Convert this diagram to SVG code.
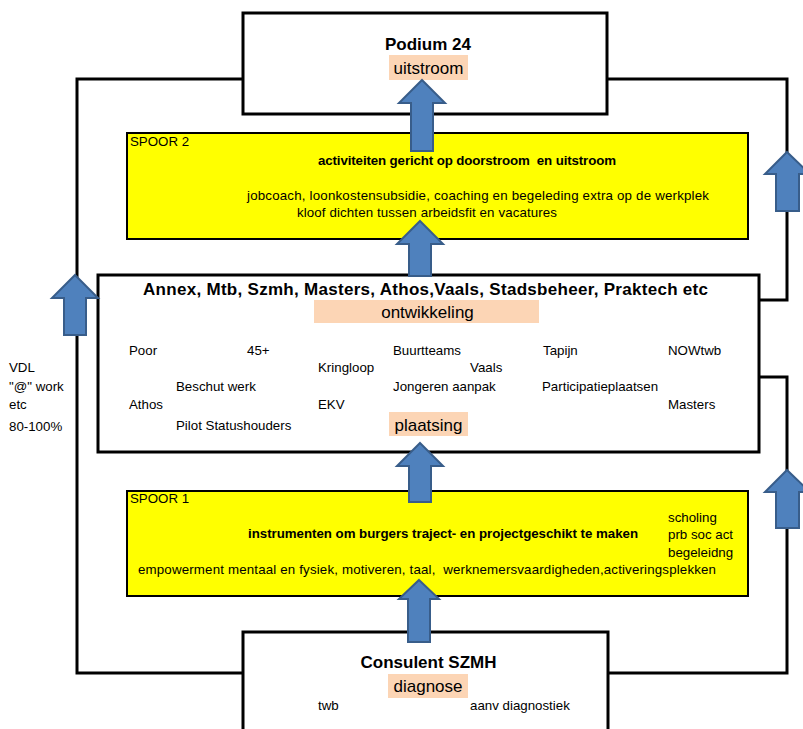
<svg xmlns="http://www.w3.org/2000/svg" width="803" height="729" viewBox="0 0 803 729">
<style>
.box{fill:#ffffff;stroke:#000000;stroke-width:3}
.spoor{fill:#ffff00;stroke:#000000;stroke-width:2}
.hl{fill:#fcd5b5;stroke:none}
.conn{fill:none;stroke:#000000;stroke-width:3}
.arr{fill:#4f81bd;stroke:#385d8a;stroke-width:2;stroke-linejoin:miter}
text{font-family:"Liberation Sans",Arial,sans-serif;fill:#000000;white-space:pre}
.t{font-size:17px;font-weight:bold}
.tag{font-size:17px}
.s{font-size:13.3px}
.sb{font-size:13.3px;font-weight:bold}
.m{text-anchor:middle}
</style>
<rect width="803" height="729" fill="#ffffff"/>
<g id="connectors">
<polyline class="conn" points="243,79 77,79 77,673 243,673"/>
<polyline class="conn" points="607,79 787,79 787,300 759,300"/>
<polyline class="conn" points="759,377 787,377 787,673 608,673"/>
</g>
<g id="podium24">
<rect class="box" x="243" y="13" width="364" height="101"/>
<text class="t m" x="428" y="50">Podium 24</text>
<rect class="hl" x="389" y="55" width="79" height="25"/>
<text class="tag m" x="428.5" y="74">uitstroom</text>
</g>
<g id="spoor2">
<rect class="spoor" x="127" y="133" width="621" height="106"/>
<text class="s" x="130" y="146">SPOOR 2</text>
<text class="sb" x="318" y="165" textLength="298" xml:space="preserve">activiteiten gericht op doorstroom  en uitstroom</text>
<text class="s" x="247" y="200" textLength="462">jobcoach, loonkostensubsidie, coaching en begeleding extra op de werkplek</text>
<text class="s" x="297" y="217" textLength="260">kloof dichten tussen arbeidsfit en vacatures</text>
</g>
<g id="ontwikkeling">
<rect class="box" x="98" y="275" width="661" height="177"/>
<text class="t" x="143" y="295" textLength="565">Annex, Mtb, Szmh, Masters, Athos,Vaals, Stadsbeheer, Praktech etc</text>
<rect class="hl" x="314" y="300" width="225" height="23"/>
<text class="tag m" x="427.5" y="318">ontwikkeling</text>
<text class="s" x="129" y="355">Poor</text>
<text class="s" x="247" y="355">45+</text>
<text class="s" x="393" y="355">Buurtteams</text>
<text class="s" x="543" y="355">Tapijn</text>
<text class="s" x="668" y="355">NOWtwb</text>
<text class="s" x="318" y="372">Kringloop</text>
<text class="s" x="470" y="372">Vaals</text>
<text class="s" x="176" y="391">Beschut werk</text>
<text class="s" x="393" y="391">Jongeren aanpak</text>
<text class="s" x="542" y="391">Participatieplaatsen</text>
<text class="s" x="129" y="409">Athos</text>
<text class="s" x="318" y="409">EKV</text>
<text class="s" x="668" y="409">Masters</text>
<text class="s" x="176" y="430">Pilot Statushouders</text>
<rect class="hl" x="389" y="412" width="79" height="24"/>
<text class="tag m" x="428.5" y="431">plaatsing</text>
</g>
<g id="side-note">
<text class="s" x="9" y="372">VDL</text>
<text class="s" x="9" y="391">"@" work</text>
<text class="s" x="9" y="409">etc</text>
<text class="s" x="9" y="431">80-100%</text>
</g>
<g id="spoor1">
<rect class="spoor" x="127" y="491" width="621" height="105"/>
<text class="s" x="130" y="503">SPOOR 1</text>
<text class="sb" x="248" y="538" textLength="390">instrumenten om burgers traject- en projectgeschikt te maken</text>
<text class="s" x="668" y="522">scholing</text>
<text class="s" x="668" y="539">prb soc act</text>
<text class="s" x="668" y="557">begeleidng</text>
<text class="s" x="138" y="574" textLength="578" xml:space="preserve">empowerment mentaal en fysiek, motiveren, taal,  werknemersvaardigheden,activeringsplekken</text>
</g>
<g id="consulent">
<rect class="box" x="243" y="632" width="365" height="110"/>
<text class="t m" x="428.5" y="668">Consulent SZMH</text>
<rect class="hl" x="388" y="674" width="80" height="24"/>
<text class="tag m" x="428" y="692">diagnose</text>
<text class="s" x="318" y="710">twb</text>
<text class="s" x="470" y="710">aanv diagnostiek</text>
</g>
<g id="arrows">
<path class="arr" d="M422,80 L445,103 L433,103 L433,151 L411,151 L411,103 L399,103 Z"/>
<path class="arr" d="M420,221 L443,244 L431,244 L431,276 L409,276 L409,244 L397,244 Z"/>
<path class="arr" d="M420,443 L443,466 L431,466 L431,502 L409,502 L409,466 L397,466 Z"/>
<path class="arr" d="M419,580 L439,599 L430,599 L430,642 L408,642 L408,599 L399,599 Z"/>
<path class="arr" d="M75,275 L98,298 L86,298 L86,335 L64,335 L64,298 L52,298 Z"/>
<path class="arr" d="M787,152 L810,174 L799,174 L799,211 L776,211 L776,174 L765,174 Z"/>
<path class="arr" d="M787,470 L810,492 L799,492 L799,528 L776,528 L776,492 L765,492 Z"/>
</g>
</svg>
